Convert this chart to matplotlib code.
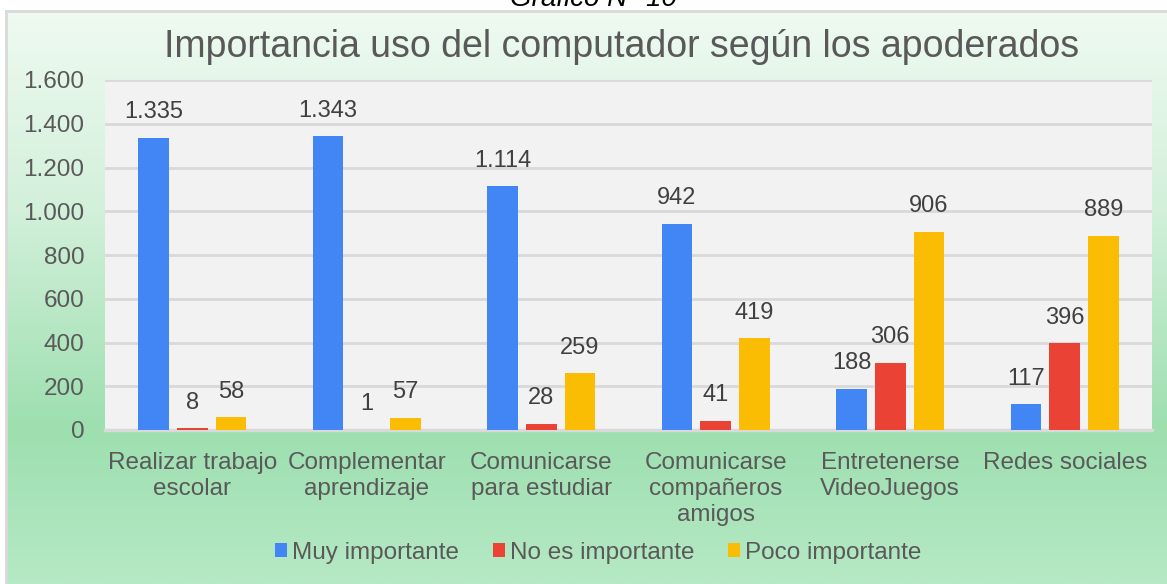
import numpy as np
import matplotlib
matplotlib.use("Agg")
import matplotlib.pyplot as plt
from matplotlib.colors import LinearSegmentedColormap
from matplotlib.ticker import FuncFormatter

# Datos del gráfico
categorias = ["Realizar trabajo\nescolar", "Complementar\naprendizaje",
              "Comunicarse\npara estudiar", "Comunicarse\ncompañeros\namigos",
              "Entretenerse\nVideoJuegos", "Redes sociales"]
series = ["Muy importante", "No es importante", "Poco importante"]
muy_importante = [1335, 1343, 1114, 942, 188, 117]
no_importante = [8, 1, 28, 41, 306, 396]
poco_importante = [58, 57, 259, 419, 906, 889]
y_ticks = [0, 200, 400, 600, 800, 1000, 1200, 1400, 1600]

titulo = "Importancia uso del computador según los apoderados"
encabezado = "Gráfico N° 10"

# Colores
C_AZUL = "#4285f4"
C_ROJO = "#ea4335"
C_AMARILLO = "#fbbc04"
C_TEXTO = "#595959"
C_GRID = "#d9d9d9"
C_PLOT = "#f2f2f2"

W, H = 1167, 584
fig = plt.figure(figsize=(W / 100, H / 100), dpi=100)
fig.patch.set_facecolor("white")
plt.rcParams["font.family"] = ["Liberation Sans", "DejaVu Sans"]


def fx(px):
    return px / W


def fy(py):
    return 1 - py / H


# Fondo degradado verde del área del gráfico
bg = fig.add_axes([fx(6), 0, 1 - fx(6), fy(11)], zorder=-2)
cmap = LinearSegmentedColormap.from_list(
    "verde", [(0.0, "#effaf1"), (0.35, "#d2f0da"), (0.73, "#9ddfaf"), (1.0, "#b6e9c5")])
grad = np.linspace(0, 1, 256).reshape(-1, 1)
bg.imshow(grad, aspect="auto", cmap=cmap, extent=[0, 1, 0, 1], origin="upper")
bg.set_xlim(0, 1)
bg.set_ylim(0, 1)
bg.set_xticks([])
bg.set_yticks([])
for s in ["right", "bottom"]:
    bg.spines[s].set_visible(False)
for s in ["left", "top"]:
    bg.spines[s].set_color(C_GRID)
    bg.spines[s].set_linewidth(2)

# Encabezado recortado (como en el original)
fig.text(fx(593), fy(6), encabezado, ha="center", va="baseline",
         fontsize=20, style="italic", color="black")

# Área de trazado
ax = fig.add_axes([fx(105), fy(430), fx(1152) - fx(105), fy(80) - fy(430)])
ax.set_facecolor(C_PLOT)

x = np.arange(len(categorias))
ancho = 0.177
paso = 0.222
valores = [muy_importante, no_importante, poco_importante]
colores = [C_AZUL, C_ROJO, C_AMARILLO]


def fmt_miles(v, pos=None):
    return f"{int(v):,}".replace(",", ".")


for k, (vals, col, nombre) in enumerate(zip(valores, colores, series)):
    barras = ax.bar(x + (k - 1) * paso, vals, ancho, color=col, label=nombre, zorder=3)
    for b, v in zip(barras, vals):
        ax.annotate(fmt_miles(v), (b.get_x() + b.get_width() / 2, v),
                    xytext=(0, 10.5), textcoords="offset points",
                    ha="center", va="bottom", fontsize=17, color="#404040")

ax.set_xlim(-0.5, len(categorias) - 0.5)
ax.set_ylim(0, 1600)
ax.set_yticks(y_ticks)
ax.yaxis.set_major_formatter(FuncFormatter(fmt_miles))
ax.yaxis.grid(True, color=C_GRID, linewidth=2, zorder=0)
ax.set_axisbelow(True)
ax.set_xticks(x)
ax.set_xticklabels(categorias, linespacing=1.22)
ax.tick_params(axis="both", length=0, labelsize=17.5, labelcolor=C_TEXTO)
ax.tick_params(axis="y", pad=15)
ax.tick_params(axis="x", pad=16)
for s in ["top", "right", "left"]:
    ax.spines[s].set_visible(False)
ax.spines["bottom"].set_color(C_GRID)
ax.spines["bottom"].set_linewidth(2.5)

# Título
fig.text(fx(622), fy(47), titulo, ha="center", va="center",
         fontsize=27, color=C_TEXTO)

# Leyenda
fig.legend(loc="center", bbox_to_anchor=(fx(598), fy(553)), ncol=3,
           frameon=False, fontsize=17.5, labelcolor=C_TEXTO,
           handlelength=0.5, handleheight=0.5, handletextpad=0.2,
           columnspacing=1.4)

fig.savefig("out.png", dpi=100)
